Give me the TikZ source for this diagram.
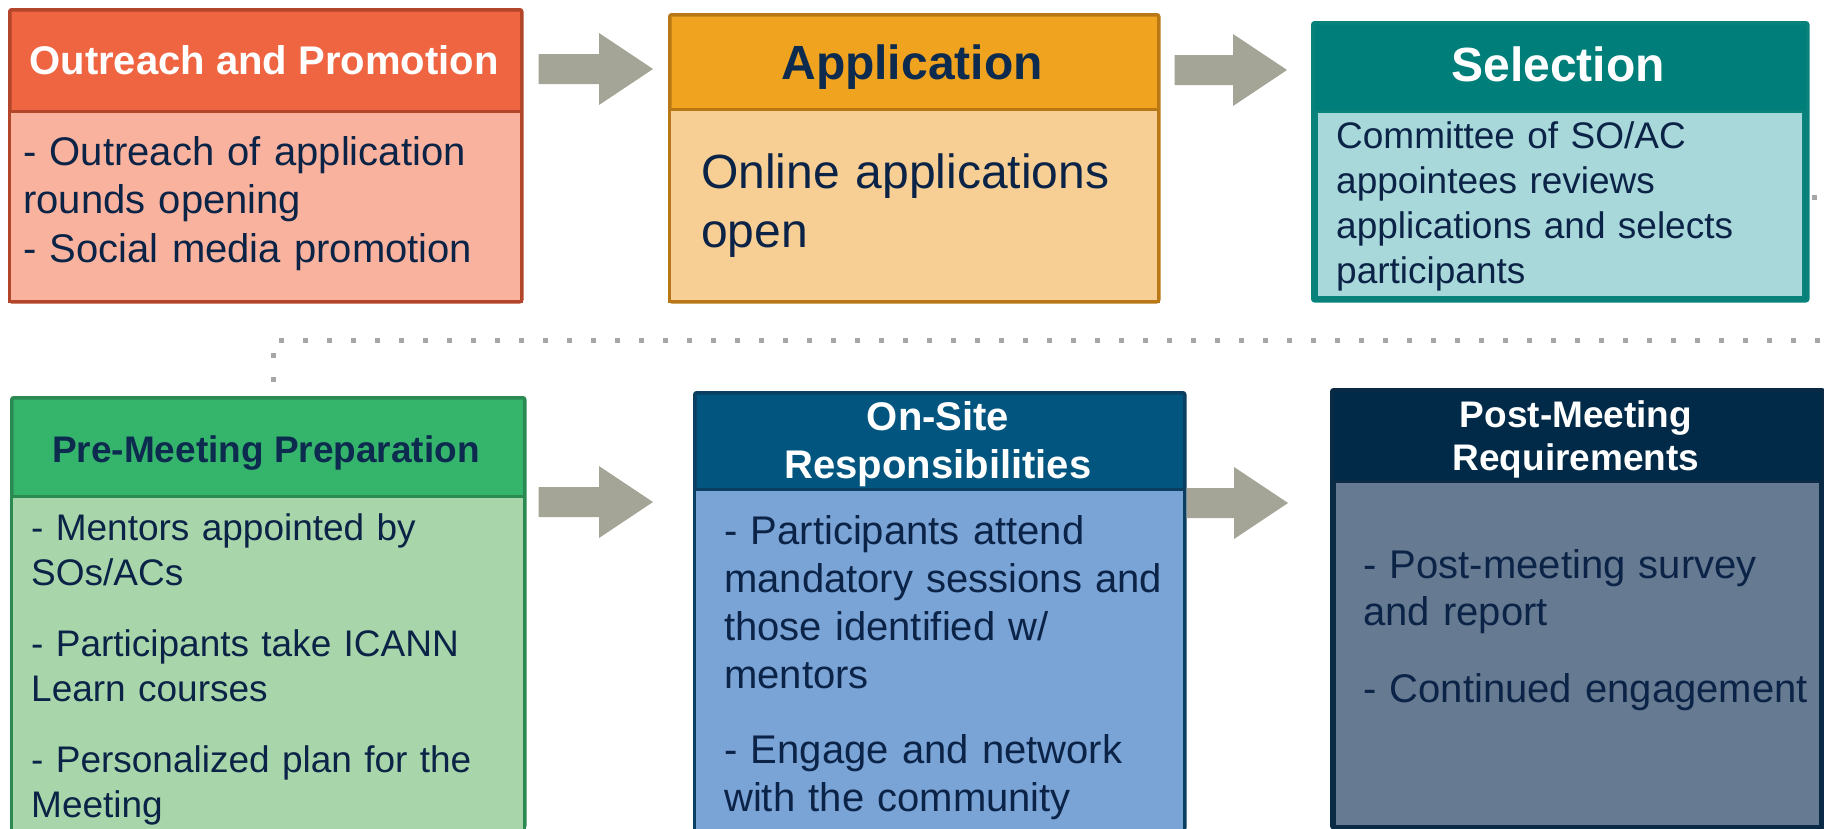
\documentclass[tikz,border=0pt]{standalone}
\usepackage{fontspec}
\setmainfont{Liberation Sans}
\usetikzlibrary{calc}
\definecolor{navy}{HTML}{0B2346}
\definecolor{hnavy}{HTML}{0D2A4F}
\definecolor{arrowgray}{HTML}{A5A597}
\definecolor{dotgray}{HTML}{A6A6A6}
\definecolor{oneH}{HTML}{F06541}\definecolor{oneB}{HTML}{F8B29D}\definecolor{oneL}{HTML}{B3452A}
\definecolor{twoH}{HTML}{F0A31F}\definecolor{twoB}{HTML}{F7CF94}\definecolor{twoL}{HTML}{B87816}
\definecolor{thrH}{HTML}{007E7A}\definecolor{thrB}{HTML}{A8D8DA}\definecolor{thrL}{HTML}{0A827C}
\definecolor{fouH}{HTML}{35B56B}\definecolor{fouB}{HTML}{A8D6AA}\definecolor{fouL}{HTML}{2A8A52}
\definecolor{fivH}{HTML}{02557F}\definecolor{fivB}{HTML}{7AA3D6}\definecolor{fivL}{HTML}{0B3F62}
\definecolor{sixH}{HTML}{002A47}\definecolor{sixB}{HTML}{667A91}\definecolor{sixL}{HTML}{0B2A45}
\newcommand\blockarrow[2]{%
  \fill[arrowgray] let \p1=(#1), \p2=(#2) in
    (\x1,\y1+15pt) -- (\x2-54pt,\y1+15pt) -- (\x2-54pt,\y1+36pt) -- (\x2,\y1)
    -- (\x2-54pt,\y1-36pt) -- (\x2-54pt,\y1-15pt) -- (\x1,\y1-15pt) -- cycle;}
\tikzset{
  outerbox/.style n args={4}{draw=#1, fill=#2, line width=3.5pt, rounded corners=2pt,
     anchor=north west, inner sep=0pt, minimum width=#3, minimum height=#4},
  bodybox/.style n args={4}{draw=#1, fill=#2, line width=3pt,
     anchor=north west, inner sep=0pt, minimum width=#3, minimum height=#4},
  headtext/.style n args={2}{anchor=base, inner sep=0pt, text=#1,
     font=\fontsize{#2}{#2}\selectfont\bfseries},
  headtwo/.style n args={3}{anchor=north, inner sep=0pt, text=#1, align=center,
     font=\fontsize{#2}{#3}\selectfont\bfseries},
  bodytext/.style n args={2}{anchor=north west, inner sep=0pt, text=navy, align=left,
     text width=500pt, font=\fontsize{#1}{#2}\selectfont},
  dotline/.style={dotgray, line width=5pt, dash pattern=on 5pt off 19pt},
}
\begin{document}
\begin{tikzpicture}[x=1pt,y=-1pt]
\useasboundingbox (0,0) rectangle (1824,828);
% boxes (outer)
\node[outerbox={oneL}{oneH}{512pt}{292pt}] (o1) at (8,8) {};
\node[outerbox={twoL}{twoH}{489pt}{287pt}] (o2) at (668,13) {};
\node[outerbox={thrL}{thrH}{495pt}{278pt}] (o3) at (1311,21) {};
\node[outerbox={fouL}{fouH}{513pt}{430pt}] (o4) at (10,396) {};
\node[outerbox={fivL}{fivH}{490pt}{437pt}] (o5) at (693,391) {};
\node[outerbox={sixL}{sixH}{492pt}{438pt}] (o6) at (1330,388) {};
% dotted connector
\coordinate (d0) at (1812,197);
\draw[dotline] (d0) -- (1840.5,197) |- (273,340) -- (o4.north -| 273,0);
% bodies
\node[bodybox={oneL}{oneB}{512pt}{190pt}] (b1) at (8,110) {};
\node[bodybox={twoL}{twoB}{489pt}{192pt}] (b2) at (668,108) {};
\node[bodybox={thrL}{thrB}{487pt}{186pt}] (b3) at (1315,110) {};
\node[bodybox={fouL}{fouB}{513pt}{335pt}] (b4) at (10,495) {};
\node[bodybox={fivL}{fivB}{490pt}{342pt}] (b5) at (693,488) {};
\node[bodybox={sixL}{sixB}{486pt}{345pt}] (b6) at (1333,480) {};
% headers
\node[headtext={white}{40}] (t1) at (264,74) {Outreach and Promotion};
\node[headtext={hnavy}{48}] (t2) at (912,79) {Application};
\node[headtext={white}{48}] (t3) at (1558,81) {Selection};
\node[headtext={hnavy}{37}] (t4) at (266,462) {Pre-Meeting Preparation};
\node[headtwo={white}{40}{48}] (t5) at (938,390) {\rule{0pt}{40pt}On-Site\\Responsibilities};
\node[headtwo={white}{37}{43}] (t6) at (1576,390) {\rule{0pt}{37pt}Post-Meeting\\Requirements};
% body texts
\node[bodytext={40}{48.5}] (c1) at (23,125) {\rule{0pt}{40pt}- Outreach of application\\rounds opening\\- Social media promotion};
\node[bodytext={48}{59}] (c2) at (701,140) {\rule{0pt}{48pt}Online applications\\open};
\node[bodytext={37}{45}] (c3) at (1336,111) {\rule{0pt}{37pt}Committee of SO/AC\\appointees reviews\\applications and selects\\participants};
\node[bodytext={37}{45}] (c4) at (31,503) {\rule{0pt}{37pt}- Mentors appointed by\\SOs/ACs\\[26pt]- Participants take ICANN\\Learn courses\\[26pt]- Personalized plan for the\\Meeting};
\node[bodytext={40}{48}] (c5) at (724,504) {\rule{0pt}{40pt}- Participants attend\\mandatory sessions and\\those identified w/\\mentors\\[27pt]- Engage and network\\with the community};
\node[bodytext={40}{47}] (c6) at (1363,538) {\rule{0pt}{40pt}- Post-meeting survey\\and report\\[30pt]- Continued engagement};
% arrows
\path (o1.east |- 0,69) ++(15,0) coordinate (a1s);
\path (o2.west |- 0,69) ++(-15,0) coordinate (a1e);
\path (o2.east |- 0,70) ++(14,0) coordinate (a2s);
\path (o3.west |- 0,70) ++(-24,0) coordinate (a2e);
\path (o4.east |- 0,502) ++(12,0) coordinate (a3s);
\path (o5.west |- 0,502) ++(-40,0) coordinate (a3e);
\path (o5.east |- 0,503) coordinate (a4s);
\path (o6.west |- 0,503) ++(-42,0) coordinate (a4e);
\blockarrow{a1s}{a1e}
\blockarrow{a2s}{a2e}
\blockarrow{a3s}{a3e}
\blockarrow{a4s}{a4e}
\end{tikzpicture}
\end{document}
